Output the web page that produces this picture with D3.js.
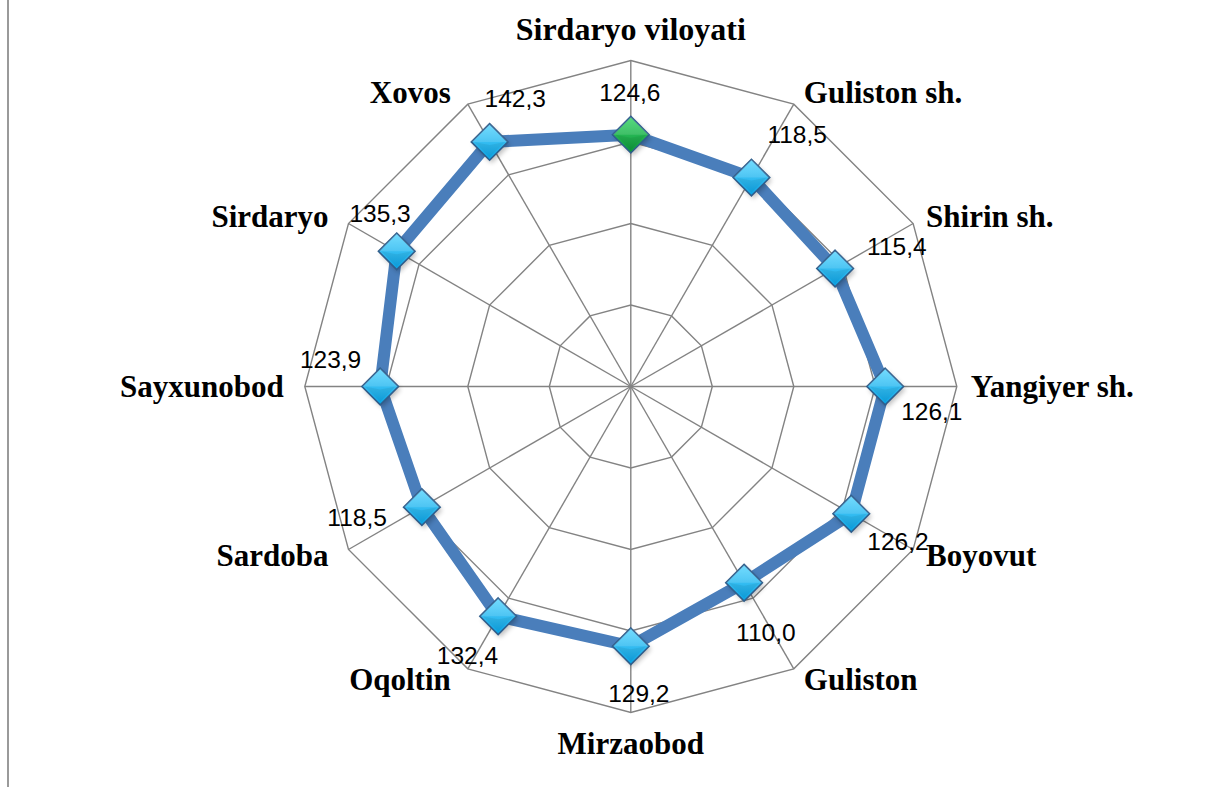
<!DOCTYPE html>
<html>
<head>
<meta charset="utf-8">
<script src="https://cdn.jsdelivr.net/npm/d3@7"></script>
<style>
  html, body { margin: 0; padding: 0; background: #fff; }
  svg { display: block; }
  .cat-label { font-family: "Liberation Serif", "Times New Roman", serif; font-weight: bold; font-size: 31px; fill: #000; }
  .val-label { font-family: "Liberation Sans", Arial, sans-serif; font-size: 24.5px; fill: #000; }
</style>
</head>
<body>
<svg id="chart" width="1208" height="787"></svg>
<script>
// ── Data ──────────────────────────────────────────────────────
const categories = ['Sirdaryo viloyati', 'Guliston sh.', 'Shirin sh.', 'Yangiyer sh.', 'Boyovut', 'Guliston',
  'Mirzaobod', 'Oqoltin', 'Sardoba', 'Sayxunobod', 'Sirdaryo', 'Xovos'];
const values = [124.6, 118.5, 115.4, 126.1, 126.2, 110.0, 129.2, 132.4, 118.5, 123.9, 135.3, 142.3];
// radial axis as it sits in the picture (unlabelled, 4 rings)
const axisDomain = [-21, 167.5];
const ringCount = 4;

// ── Layout ────────────────────────────────────────────────────
const W = 1208, H = 787;
const cx = 630.8, cy = 386.5, R = 326;

// data label placement relative to its marker: [anchor, dx, dy(baseline)]
const labelPos = [
  ['middle', -1, -34], ['start', 16, -35], ['start', 32, -14], ['start', 16, 33],
  ['start', 16, 36], ['start', -8, 58], ['middle', 8, 56], ['end', 0, 48],
  ['end', -35, 19], ['end', -19, -19], ['end', 14, -29], ['start', -5, -35]
];

const svg = d3.select('#chart');
const defs = svg.append('defs');

// marker gradients
function grad(id, c1, c2) {
  const g = defs.append('linearGradient').attr('id', id)
    .attr('x1', 0).attr('y1', 0).attr('x2', 0).attr('y2', 1);
  g.append('stop').attr('offset', '0%').attr('stop-color', c1);
  g.append('stop').attr('offset', '100%').attr('stop-color', c2);
}
grad('gBlue', '#62d8ff', '#08a2e4');
grad('gGreen', '#40d86e', '#0b9438');
defs.append('filter').attr('id', 'shadow').attr('x', '-50%').attr('y', '-50%').attr('width', '200%').attr('height', '200%')
  .append('feGaussianBlur').attr('stdDeviation', 2.5);

// left frame line
svg.append('line').attr('x1', 8).attr('x2', 8).attr('y1', 0).attr('y2', H)
  .attr('stroke', '#9a9a9a').attr('stroke-width', 2);

const n = categories.length;
const angle = i => (i / n) * 2 * Math.PI;
const r = d3.scaleLinear().domain(axisDomain).range([0, R]);
const pt = (i, rad) => [cx + rad * Math.sin(angle(i)), cy - rad * Math.cos(angle(i))];

// ── Grid ──────────────────────────────────────────────────────
const grid = svg.append('g').attr('fill', 'none').attr('stroke', '#838383').attr('stroke-width', 1.4);
const ringVals = d3.range(1, ringCount + 1).map(k => axisDomain[0] + (axisDomain[1] - axisDomain[0]) * k / ringCount);
grid.selectAll('path.ring').data(ringVals).join('path')
  .attr('class', 'ring')
  .attr('d', v => d3.line()(d3.range(n).map(i => pt(i, r(v)))) + 'Z');
grid.selectAll('line.spoke').data(categories).join('line')
  .attr('class', 'spoke')
  .attr('x1', cx).attr('y1', cy)
  .attr('x2', (d, i) => pt(i, R)[0]).attr('y2', (d, i) => pt(i, R)[1]);

// ── Series line ───────────────────────────────────────────────
const pts = values.map((v, i) => pt(i, r(v)));
svg.append('path')
  .attr('d', d3.line()(pts) + 'Z')
  .attr('fill', 'none')
  .attr('stroke', '#4a7ebb')
  .attr('stroke-width', 12)
  .attr('stroke-linejoin', 'round');

// ── Markers ───────────────────────────────────────────────────
const M = 18.3;
const diamond = `M0,${-M}L${M},0L0,${M}L${-M},0Z`;
const mk = svg.append('g').selectAll('g').data(values).join('g')
  .attr('transform', (d, i) => `translate(${pts[i][0]},${pts[i][1]})`);
mk.append('path').attr('d', diamond).attr('transform', 'translate(2,3)')
  .attr('fill', '#000').attr('opacity', 0.25).attr('filter', 'url(#shadow)');
mk.append('path').attr('d', diamond)
  .attr('fill', (d, i) => i === 0 ? 'url(#gGreen)' : 'url(#gBlue)')
  .attr('stroke', '#2f5e8c').attr('stroke-width', 1.6);
// facets for the bevel look
mk.append('path').attr('d', `M${-M},0L0,${-M}L${M},0L0,0Z`)
  .attr('fill', '#fff').attr('opacity', 0.12);
mk.append('path').attr('d', `M${-M + 3},0L0,${M - 3}L${M - 3},0L0,3Z`)
  .attr('fill', '#000').attr('opacity', 0.06);

// ── Value labels ──────────────────────────────────────────────
const fmt = v => d3.format('.1f')(v).replace('.', ',');
svg.append('g').selectAll('text').data(values).join('text')
  .attr('class', 'val-label')
  .attr('text-anchor', (d, i) => labelPos[i][0])
  .attr('x', (d, i) => pts[i][0] + labelPos[i][1])
  .attr('y', (d, i) => pts[i][1] + labelPos[i][2])
  .text(fmt);

// ── Category labels ───────────────────────────────────────────
svg.append('g').selectAll('text').data(categories).join('text')
  .attr('class', 'cat-label')
  .style('font-size', (d, i) => i === 0 ? '32px' : null)
  .each(function (d, i) {
    const [vx, vy] = pt(i, R);
    const s = Math.sin(angle(i)), c = Math.cos(angle(i));
    let anchor = 'middle', dx = 0, dy;
    if (Math.abs(s) < 0.01) {
      dy = 10 - c * 31;
    } else {
      dy = 10 - c * 13;
      if (s > 0) { anchor = 'start'; dx = Math.abs(s) * 8 + 6; }
      else { anchor = 'end'; dx = -(Math.abs(s) * 8 + 13); }
    }
    d3.select(this).attr('text-anchor', anchor).attr('x', vx + dx).attr('y', vy + dy);
  })
  .text(d => d);
</script>
</body>
</html>
